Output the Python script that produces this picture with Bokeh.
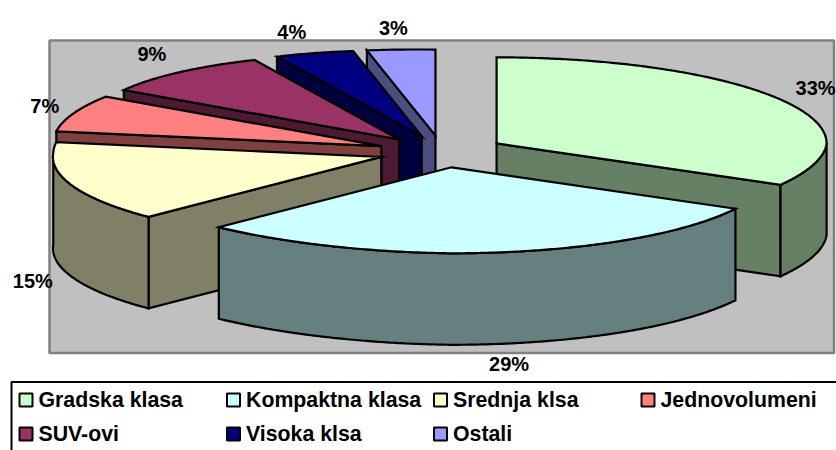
import numpy as np
from bokeh.plotting import figure
from bokeh.models import ColumnDataSource, Range1d
from bokeh.core.properties import value
from bokeh.embed import file_html
from bokeh.resources import INLINE

categories = ["Gradska klasa", "Kompaktna klasa", "Srednja klsa", "Jednovolumeni", "SUV-ovi", "Visoka klsa", "Ostali"]
shares = [33, 29, 15, 7, 9, 4, 3]
top_colors = ["#CCFFCC", "#CCFFFF", "#FFFFCC", "#FF8080", "#993366", "#000080", "#9999FF"]
side_colors = ["#668066", "#668080", "#808066", "#804040", "#4D1A33", "#000040", "#4D4D80"]

# pie projection, in page pixels
CX, CY, RY, DEPTH, EXPLODE_X, EXPLODE_Y = 441.0, 151.0, 86.0, 91.5, 64.0, 16.0
# the reference's 3D projection is not a perfect ellipse: horizontal radius by angle,
# and the left half of the rim tilts slightly upward
RX_ANGLE = [0, 90, 118.8, 180, 223, 270, 302, 335, 349, 360]
RX_VALUE = [330, 330, 324, 330, 340, 328, 326, 340, 366, 366]
LEFT_TILT = 4.0
LABEL_RX = 330.0
LABEL_DX = [35, 6, -38, -26, -29, -28, -11]
LABEL_DY = [-12, 112, 95, -11, -20.5, -22, -22]
LEG_SW_X = [25.5, 233, 440, 647.5, 25.5, 233, 440]
LEG_Y = [399.5, 399.5, 399.5, 399.5, 433.5, 433.5, 433.5]

p = figure(width=836, height=450, output_backend="svg", toolbar_location=None,
           x_range=Range1d(0, 836), y_range=Range1d(450, 0), min_border=0,
           background_fill_color="white", border_fill_color="white", outline_line_color=None)
p.axis.visible = False
p.grid.visible = False

# plot panel and legend frame
p.quad(left=[49], right=[833.5], top=[40], bottom=[352.5], fill_color="#C0C0C0", line_color="#808080", line_width=2.5)
p.quad(left=[11], right=[900], top=[381.5], bottom=[500], fill_color="white", line_color="black", line_width=2)

total = sum(shares)
bounds = np.cumsum([0] + shares) / total * 360.0

xs, ys, fills = [], [], []
def arc(ax, ay, t0, t1, dy=0.0):
    deg = np.linspace(t0, t1, max(2, int(abs(t1 - t0) * 2) + 2))
    t = np.radians(deg)
    tilt = LEFT_TILT * np.minimum(np.sin(t), 0.0)
    return ax + np.interp(deg, RX_ANGLE, RX_VALUE) * np.sin(t), ay - RY * np.cos(t) + tilt + dy

def add(x, y, color):
    xs.append(list(x)); ys.append(list(y)); fills.append(color)

# back slices first, the near ones over them
order = [6, 5, 4, 3, 2, 0, 1]
for i in order:
    t0, t1 = bounds[i], bounds[i + 1]
    mid = np.radians((t0 + t1) / 2)
    ax = CX + EXPLODE_X * np.sin(mid)
    ay = CY - EXPLODE_Y * np.cos(mid)
    for th, visible in ((t0, np.sin(np.radians(t0)) < -1e-6), (t1, np.sin(np.radians(t1)) > 1e-6)):
        if visible:
            ex, ey = arc(ax, ay, th, th)
            add([ax, ex[0], ex[0], ax], [ay, ey[0], ey[0] + DEPTH, ay + DEPTH], side_colors[i])
    a, b = max(t0, 90.0), min(t1, 270.0)
    if a < b:
        ux, uy = arc(ax, ay, a, b)
        lx, ly = arc(ax, ay, b, a, DEPTH)
        add(np.r_[ux, lx], np.r_[uy, ly], side_colors[i])
    ux, uy = arc(ax, ay, t0, t1)
    add(np.r_[ax, ux], np.r_[ay, uy], top_colors[i])

p.patches(xs="xs", ys="ys", fill_color="fills", line_color="black", line_width=2.2, line_join="miter",
          source=ColumnDataSource(dict(xs=xs, ys=ys, fills=fills)))

# percentage labels
lx, ly, lt = [], [], []
for i, s in enumerate(shares):
    mid = np.radians((bounds[i] + bounds[i + 1]) / 2)
    ax = CX + EXPLODE_X * np.sin(mid)
    ay = CY - EXPLODE_Y * np.cos(mid)
    lx.append(ax + LABEL_RX * np.sin(mid) + LABEL_DX[i])
    ly.append(ay - RY * np.cos(mid) + LABEL_DY[i])
    lt.append(f"{s}%")
p.text(x=lx, y=ly, text=lt, text_align="center", text_baseline="middle", text_color="black",
       text_font=value("Liberation Sans"), text_font_style="bold", text_font_size="20px")

# legend
p.rect(x=LEG_SW_X, y=LEG_Y, width=13, height=13, width_units="screen", height_units="screen",
       fill_color=top_colors, line_color="black", line_width=2)
p.text(x=[v + 12.5 for v in LEG_SW_X], y=LEG_Y, text=categories, text_align="left", text_baseline="middle",
       text_color="black", text_font=value("Liberation Sans"), text_font_style="bold", text_font_size="21.3px")

open("out.html", "w").write(file_html(p, INLINE))
